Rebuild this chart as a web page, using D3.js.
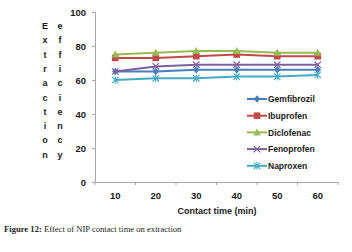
<!DOCTYPE html>
<html><head><meta charset="utf-8">
<script src="https://cdnjs.cloudflare.com/ajax/libs/d3/7.8.5/d3.min.js"></script>
<style>body{margin:0;background:#fff}svg{display:block}</style>
</head><body>
<script>
const categories = ["10","20","30","40","50","60"];
const seriesNames = ["Gemfibrozil","Ibuprofen","Diclofenac","Fenoprofen","Naproxen"];
const gemfibrozil = [65,65,66,66,66,66];
const ibuprofen = [73,73,74,75,74,74];
const diclofenac = [75,76,77,77,76,76];
const fenoprofen = [65,68,69,69,69,69];
const naproxen = [60,61,61,62,62,63];
const yTicks = [0,20,40,60,80,100];
const colors = ["#4a7ebb","#be4b48","#98b954","#7d60a0","#46aac5"];
const markers = ["diamond","square","triangle","x","star"];
const seriesValues = [gemfibrozil, ibuprofen, diclofenac, fenoprofen, naproxen];

const W = 352, H = 252;
const svg = d3.select("body").append("svg").attr("width", W).attr("height", H);
const x = d3.scaleBand().domain(categories).range([95, 338]).padding(0);
const y = d3.scaleLinear().domain([0, 100]).range([182, 12]);
const axisColor = "#a6a6a6";
const txt = "#1a1a1a";
const sans = "'Liberation Sans', Arial, sans-serif";

// Y axis
const yAxis = svg.append("g").attr("transform", `translate(${x.range()[0]},0)`)
  .call(d3.axisLeft(y).tickValues(yTicks).tickSize(3).tickPadding(6));
yAxis.select(".domain").attr("stroke", axisColor);
yAxis.selectAll(".tick line").attr("stroke", axisColor);
yAxis.selectAll("text").attr("font-family", sans).attr("font-weight", "bold")
  .attr("font-size", "9.5px").attr("fill", txt);

// X axis
const xAxis = svg.append("g").attr("transform", `translate(0,${y(0)})`)
  .call(d3.axisBottom(x).tickSize(0).tickPadding(10));
xAxis.select(".domain").attr("stroke", axisColor);
xAxis.selectAll("text").attr("font-family", sans).attr("font-weight", "bold")
  .attr("font-size", "9.5px").attr("fill", txt);
const bounds = categories.map(c => x(c)).concat([x.range()[1]]);
xAxis.selectAll("line.bt").data(bounds).enter().append("line").attr("class","bt")
  .attr("x1", d => d).attr("x2", d => d).attr("y1", 0).attr("y2", 3).attr("stroke", axisColor);

// X title
svg.append("text").attr("x", 217).attr("y", 214).attr("text-anchor", "middle")
  .attr("font-family", sans).attr("font-weight", "bold").attr("font-size", "9px")
  .attr("fill", txt).text("Contact time (min)");

// Y title: two vertical columns of letters
const yTitleWords = ["Extraction", "efficiency"];
yTitleWords.forEach((w, j) => {
  svg.append("g").selectAll("text").data(w.split("")).enter().append("text")
    .attr("x", 45 + j * 15).attr("y", (d, i) => 29 + i * 14.3)
    .attr("text-anchor", "middle").attr("font-family", sans).attr("font-weight", "bold")
    .attr("font-size", "9px").attr("fill", txt).text(d => d);
});

function drawMarker(g, type, color, cx, cy) {
  const s = 3.2;
  if (type === "diamond") {
    g.append("path").attr("d", `M${cx},${cy-s-0.6}L${cx+s},${cy}L${cx},${cy+s+0.6}L${cx-s},${cy}Z`).attr("fill", color);
  } else if (type === "square") {
    g.append("rect").attr("x", cx-3.3).attr("y", cy-3.3).attr("width", 6.6).attr("height", 6.6).attr("fill", color);
  } else if (type === "triangle") {
    g.append("path").attr("d", `M${cx},${cy-4}L${cx+3.8},${cy+3}L${cx-3.8},${cy+3}Z`).attr("fill", color);
  } else if (type === "x") {
    g.append("path").attr("d", `M${cx-3.2},${cy-3.2}L${cx+3.2},${cy+3.2}M${cx-3.2},${cy+3.2}L${cx+3.2},${cy-3.2}`)
      .attr("stroke", color).attr("stroke-width", 1.2).attr("fill", "none");
  } else if (type === "star") {
    g.append("path").attr("d", `M${cx-3.2},${cy-3.2}L${cx+3.2},${cy+3.2}M${cx-3.2},${cy+3.2}L${cx+3.2},${cy-3.2}M${cx},${cy-3.8}L${cx},${cy+3.8}`)
      .attr("stroke", color).attr("stroke-width", 1.1).attr("fill", "none");
  }
}

// Series lines
const line = d3.line().x((d, i) => x(categories[i]) + x.bandwidth() / 2).y(d => y(d));
seriesValues.forEach((vals, k) => {
  const g = svg.append("g");
  g.append("path").datum(vals).attr("d", line).attr("fill", "none")
    .attr("stroke", colors[k]).attr("stroke-width", 2);
  vals.forEach((v, i) => drawMarker(g, markers[k], colors[k], x(categories[i]) + x.bandwidth() / 2, y(v)));
});

// Legend
const legend = svg.append("g");
seriesNames.forEach((name, k) => {
  const ly = 99 + k * 16.7;
  legend.append("line").attr("x1", 247).attr("x2", 267).attr("y1", ly).attr("y2", ly)
    .attr("stroke", colors[k]).attr("stroke-width", 2);
  drawMarker(legend, markers[k], colors[k], 257, ly);
  legend.append("text").attr("x", 268).attr("y", ly + 3.3)
    .attr("font-family", sans).attr("font-weight", "bold").attr("font-size", "8.5px")
    .attr("fill", txt).text(name);
});

// Caption
const cap = svg.append("text").attr("x", 4).attr("y", 232)
  .attr("font-family", "'Liberation Serif', 'Times New Roman', serif").attr("font-size", "8.6px").attr("fill", "#231f20");
cap.append("tspan").attr("font-weight", "bold").text("Figure 12:");
cap.append("tspan").text(" Effect of NIP contact time on extraction");
</script>
</body></html>
